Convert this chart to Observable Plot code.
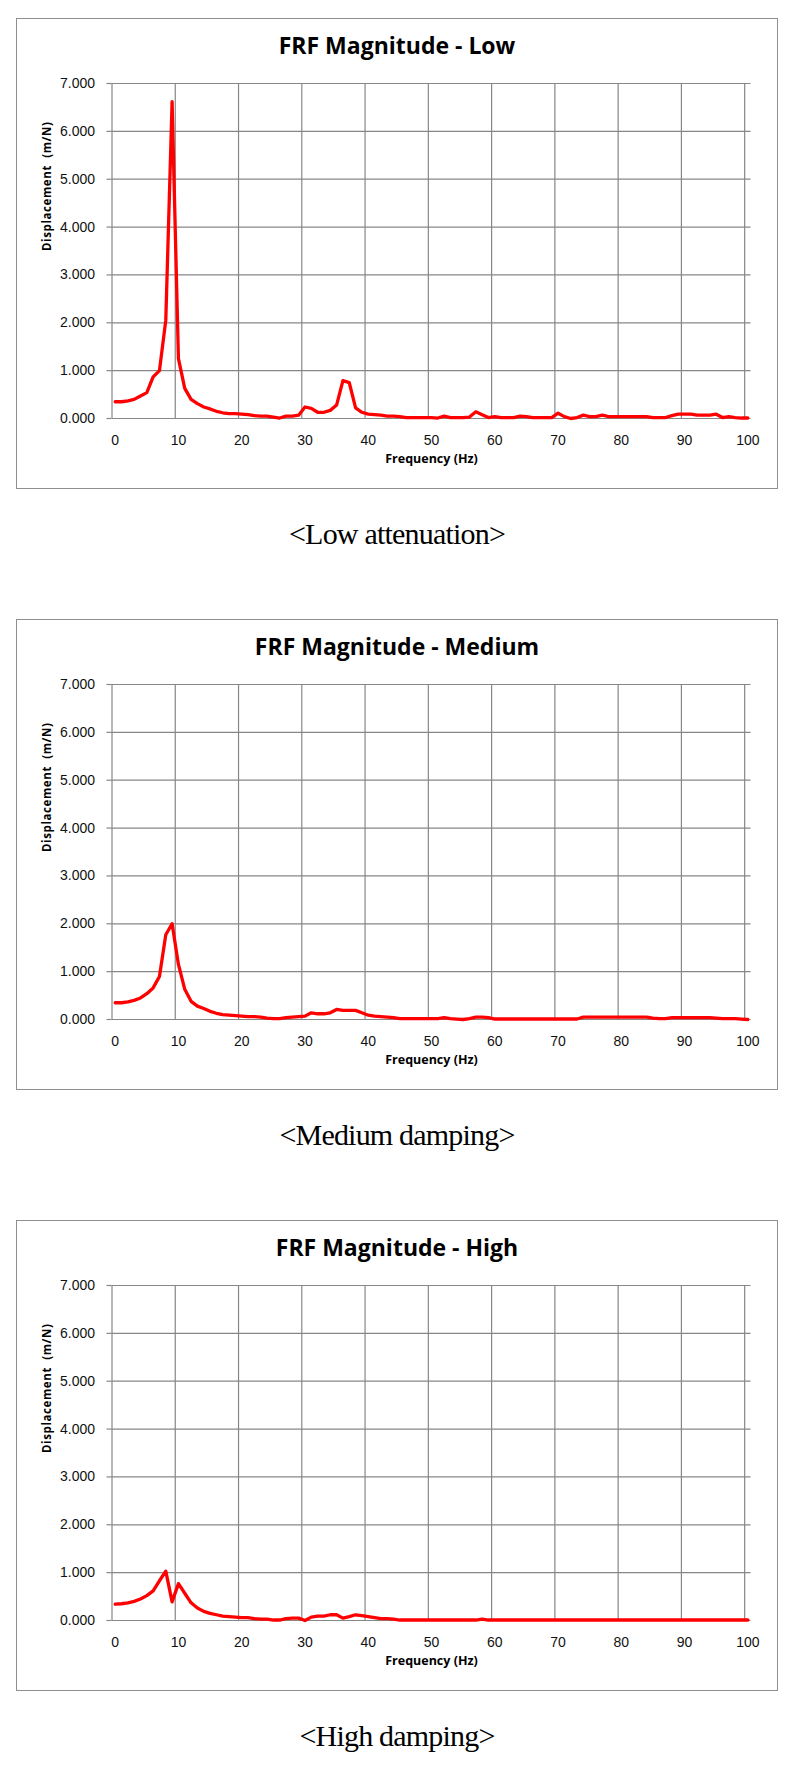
<!DOCTYPE html>
<html>
<head>
<meta charset="utf-8">
<script src="https://cdn.jsdelivr.net/npm/d3@7"></script>
<script src="https://cdn.jsdelivr.net/npm/@observablehq/plot@0.6"></script>
<style>
  html, body { margin: 0; padding: 0; background: #fff; }
  body { position: relative; width: 800px; height: 1771px; overflow: hidden; }
  .panel { position: absolute; left: 16px; width: 762px; height: 471px; box-sizing: border-box;
           border: 1.5px solid #8f8f8f; background: #fff; }
  .title { position: absolute; left: 0; right: 0; top: 10px; text-align: center;
           font-family: "Open Sans", sans-serif; font-weight: bold; font-size: 23px; line-height: 32px; color: #000; }
  .panel svg { position: absolute; left: 0; top: 55.5px; }
  .caption { position: absolute; left: 0; width: 794px; text-align: center;
             font-family: "Liberation Serif", "Times New Roman", serif; font-size: 30px; line-height: 36px;
             letter-spacing: -0.8px; color: #000; }
</style>
</head>
<body>
<script>
// ---- data ----
const freq = [0,1,2,3,4,5,6,7,8,9,10,11,12,13,14,15,16,17,18,19,20,21,22,23,24,25,26,27,28,29,30,31,32,33,34,35,36,37,38,39,40,41,42,43,44,45,46,47,48,49,50,51,52,53,54,55,56,57,58,59,60,61,62,63,64,65,66,67,68,69,70,71,72,73,74,75,76,77,78,79,80,81,82,83,84,85,86,87,88,89,90,91,92,93,94,95,96,97,98,99,100];

const lowValues = [
  0.35,0.35,0.37,0.40,0.47,0.54,0.87,1.00,2.05,6.62,
  1.25,0.63,0.40,0.31,0.24,0.20,0.15,0.12,0.10,0.10,
  0.09,0.08,0.06,0.05,0.05,0.03,0.01,0.05,0.05,0.07,
  0.24,0.21,0.13,0.13,0.17,0.28,0.79,0.75,0.22,0.13,
  0.09,0.08,0.07,0.05,0.05,0.04,0.02,0.02,0.02,0.02,
  0.02,0.01,0.05,0.02,0.02,0.02,0.03,0.14,0.08,0.02,
  0.04,0.02,0.02,0.02,0.05,0.04,0.02,0.02,0.02,0.02,
  0.11,0.04,0.00,0.02,0.07,0.04,0.04,0.07,0.04,0.04,
  0.04,0.04,0.04,0.04,0.04,0.02,0.02,0.02,0.06,0.09,
  0.09,0.09,0.07,0.07,0.07,0.09,0.02,0.04,0.02,0.01,
  0.01
];

const mediumValues = [
  0.35,0.35,0.37,0.40,0.45,0.54,0.66,0.90,1.77,2.00,
  1.15,0.63,0.38,0.28,0.23,0.17,0.13,0.10,0.09,0.08,
  0.07,0.06,0.06,0.05,0.03,0.02,0.02,0.04,0.05,0.06,
  0.07,0.14,0.12,0.12,0.14,0.21,0.19,0.19,0.19,0.14,
  0.09,0.07,0.06,0.05,0.04,0.02,0.02,0.02,0.02,0.02,
  0.02,0.02,0.04,0.02,0.01,0.00,0.02,0.05,0.05,0.04,
  0.01,0.01,0.01,0.01,0.01,0.01,0.01,0.01,0.01,0.01,
  0.01,0.01,0.01,0.01,0.05,0.05,0.05,0.05,0.05,0.05,
  0.05,0.05,0.05,0.05,0.05,0.03,0.02,0.02,0.04,0.04,
  0.04,0.04,0.04,0.04,0.04,0.03,0.02,0.02,0.02,0.01,
  0.00
];

const highValues = [
  0.34,0.35,0.37,0.40,0.45,0.52,0.62,0.83,1.03,0.39,
  0.77,0.57,0.37,0.26,0.19,0.15,0.12,0.09,0.08,0.07,
  0.06,0.06,0.04,0.03,0.03,0.01,0.01,0.04,0.05,0.05,
  0.00,0.07,0.09,0.09,0.12,0.12,0.05,0.08,0.12,0.10,
  0.08,0.06,0.04,0.04,0.03,0.01,0.01,0.01,0.01,0.01,
  0.01,0.01,0.01,0.01,0.01,0.01,0.01,0.01,0.03,0.01,
  0.01,0.01,0.01,0.01,0.01,0.01,0.01,0.01,0.01,0.01,
  0.01,0.01,0.01,0.01,0.01,0.01,0.01,0.01,0.01,0.01,
  0.01,0.01,0.01,0.01,0.01,0.01,0.01,0.01,0.01,0.01,
  0.01,0.01,0.01,0.01,0.01,0.01,0.01,0.01,0.01,0.01,
  0.01
];

const titles = ["FRF Magnitude - Low", "FRF Magnitude - Medium", "FRF Magnitude - High"];
const captions = ["<Low attenuation>", "<Medium damping>", "<High damping>"];
const xTicks = [0,10,20,30,40,50,60,70,80,90,100];
const yTicks = [0,1,2,3,4,5,6,7];
const xLabel = "Frequency (Hz)";
const yLabel = "Displacement  (m/N)";

// ---- drawing ----
const gridColor = "#878787";

function chart(values) {
  const data = freq.map((f, i) => ({f, v: values[i]}));
  const svg = Plot.plot({
    width: 759,
    height: 412,
    marginLeft: 94.5,
    marginRight: 25.5,
    marginTop: 8,
    marginBottom: 69,
    style: {fontFamily: "'Liberation Sans', Arial, sans-serif", fontSize: "14px", color: "#111", background: "transparent", overflow: "visible"},
    x: {domain: [-0.5, 100.5]},
    y: {domain: [0, 7]},
    marks: [
      Plot.ruleY(yTicks, {stroke: gridColor, strokeWidth: 1.2}),
      Plot.ruleX(xTicks.map(t => t - 0.5), {y1: 0, y2: 7, stroke: gridColor, strokeWidth: 1.2}),
      Plot.axisY({ticks: yTicks, tickSize: 5, tickPadding: 12, tickFormat: d3.format(".3f"), stroke: gridColor, strokeWidth: 1.2, fill: "#111", label: null}),
      Plot.axisX({ticks: xTicks, tickSize: 0, tickPadding: 17, tickFormat: d => String(d), fill: "#111", label: null}),
      Plot.text([xLabel], {frameAnchor: "bottom", dy: 44, text: d => d, fontWeight: "bold", fontSize: 12.5, fontFamily: "Open Sans", fill: "#000"}),
      Plot.text([yLabel], {frameAnchor: "left", dx: -65, rotate: -90, text: d => d, fontWeight: "bold", fontSize: 11.5, fontFamily: "Open Sans", fill: "#000"}),
      Plot.line(data, {x: "f", y: "v", stroke: "#ff0000", strokeWidth: 3.3, strokeLinejoin: "round", strokeLinecap: "round"})
    ]
  });
  d3.select(svg).selectAll("text").filter(function() { return this.textContent === yLabel; })
    .attr("letter-spacing", "0.6px").style("white-space", "pre");
  return svg;
}

const tops = [18, 619, 1220];
const series = [lowValues, mediumValues, highValues];
tops.forEach((T, i) => {
  const panel = document.createElement("div");
  panel.className = "panel";
  panel.style.top = T + "px";
  const t = document.createElement("div");
  t.className = "title";
  t.textContent = titles[i];
  panel.append(t);
  panel.append(chart(series[i]));
  document.body.append(panel);
  const cap = document.createElement("div");
  cap.className = "caption";
  cap.style.top = (T + 498) + "px";
  cap.textContent = captions[i];
  document.body.append(cap);
});
</script>
</body>
</html>
